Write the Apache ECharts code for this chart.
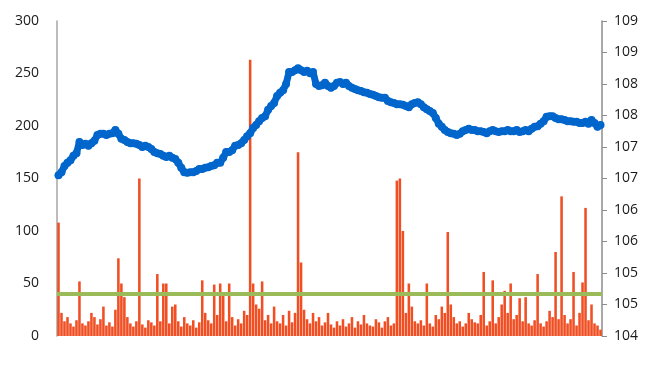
<!DOCTYPE html>
<html><head><meta charset="utf-8">
<script src="https://cdn.jsdelivr.net/npm/echarts@6/dist/echarts.min.js"></script>
<style>html,body{margin:0;padding:0;background:#fff}#c{width:645px;height:381px}</style>
</head><body><div id="c"></div>
<script>
// Volume bars (left axis)
const volume = [108,22,14,18,12,9,15,52,12,10,14,22,18,11,16,28,10,13,9,25,
74,50,37,18,12,9,14,150,11,8,15,13,10,59,14,50,50,12,28,30,
14,9,18,12,10,15,8,13,53,22,15,12,49,20,50,40,14,50,18,10,
16,12,24,20,263,50,30,26,52,15,20,12,28,14,12,20,10,24,13,22,
175,70,25,16,12,22,14,18,10,13,22,11,8,14,10,16,9,12,18,8,
14,11,20,12,10,9,16,13,8,14,18,10,12,148,150,100,22,50,28,14,
12,15,10,50,12,9,20,16,28,22,99,30,18,12,14,9,12,22,16,13,
12,20,61,10,14,53,12,18,30,43,22,50,16,20,36,14,37,12,10,15,
59,12,9,14,24,18,80,16,133,20,12,16,61,10,22,51,122,15,30,12,10,6];
// Price line (right axis)
const price = [106.55,106.60,106.70,106.75,106.79,106.86,106.90,107.08,107.03,107.05,
107.02,107.06,107.10,107.19,107.21,107.21,107.19,107.21,107.22,107.27,
107.21,107.13,107.11,107.08,107.06,107.06,107.05,107.03,107.00,107.02,
107.00,106.97,106.92,106.90,106.89,106.86,106.84,106.86,106.83,106.81,
106.75,106.67,106.60,106.59,106.60,106.60,106.62,106.65,106.65,106.67,
106.68,106.70,106.71,106.75,106.75,106.83,106.92,106.92,106.95,107.02,
107.03,107.06,107.11,107.17,107.22,107.30,107.35,107.41,107.46,107.49,
107.59,107.65,107.70,107.81,107.86,107.90,108.00,108.19,108.19,108.22,
108.25,108.22,108.19,108.21,108.17,108.19,108.00,107.97,107.98,108.02,
107.97,107.94,107.97,108.02,108.03,108.00,108.02,107.97,107.94,107.92,
107.90,107.89,107.87,107.86,107.84,107.83,107.81,107.79,107.78,107.78,
107.73,107.71,107.70,107.68,107.68,107.67,107.65,107.63,107.68,107.70,
107.71,107.68,107.63,107.60,107.57,107.54,107.46,107.37,107.32,107.27,
107.24,107.22,107.21,107.19,107.21,107.25,107.27,107.29,107.27,107.27,
107.25,107.25,107.24,107.22,107.25,107.27,107.25,107.24,107.25,107.25,
107.27,107.25,107.25,107.27,107.24,107.25,107.27,107.25,107.29,107.32,
107.33,107.37,107.41,107.48,107.49,107.49,107.46,107.44,107.44,107.43,
107.41,107.41,107.40,107.40,107.38,107.38,107.40,107.37,107.43,107.38,
107.32,107.35];
const threshold = 40;
const categories = volume.map((_, i) => String(i + 1));
const leftTicks = {min: 0, max: 300, interval: 50};
const rightTicks = {min: 104, max: 109, interval: 0.5};

const chart = echarts.init(document.getElementById('c'), null, {renderer: 'canvas'});
const labelStyle = {color: '#1a1a1a', fontSize: 14, fontFamily: 'Open Sans'};
chart.setOption({
  animation: false,
  grid: {left: 57, right: 43, top: 21, bottom: 45},
  xAxis: {type: 'category', data: categories, show: false, boundaryGap: true},
  yAxis: [
    {type: 'value', min: leftTicks.min, max: leftTicks.max, interval: leftTicks.interval,
     position: 'left', splitLine: {show: false},
     axisLine: {show: true, lineStyle: {color: '#a6a6a6', width: 1.5}},
     axisTick: {show: false},
     axisLabel: Object.assign({margin: 18}, labelStyle)},
    {type: 'value', min: rightTicks.min, max: rightTicks.max, interval: rightTicks.interval,
     position: 'right', splitLine: {show: false},
     axisLine: {show: true, lineStyle: {color: '#8c8c8c', width: 1.5}},
     axisTick: {show: true, length: 5, lineStyle: {color: '#8c8c8c'}},
     axisLabel: Object.assign({margin: 12, formatter: v => String(Math.round(v))}, labelStyle)}
  ],
  series: [
    {type: 'bar', yAxisIndex: 0, data: volume, barCategoryGap: '15%',
     itemStyle: {color: '#F04E23'}, z: 1,
     markLine: {silent: true, symbol: 'none', label: {show: false},
       lineStyle: {color: '#9BBB59', width: 4, type: 'solid'},
       data: [{yAxis: threshold}], z: 2}},
    {type: 'line', yAxisIndex: 1, data: price, symbol: 'circle', symbolSize: 8,
     showAllSymbol: true,
     lineStyle: {color: '#0066CC', width: 7, cap: 'round', join: 'round'},
     itemStyle: {color: '#0066CC'}, z: 5}
  ]
});
</script></body></html>
